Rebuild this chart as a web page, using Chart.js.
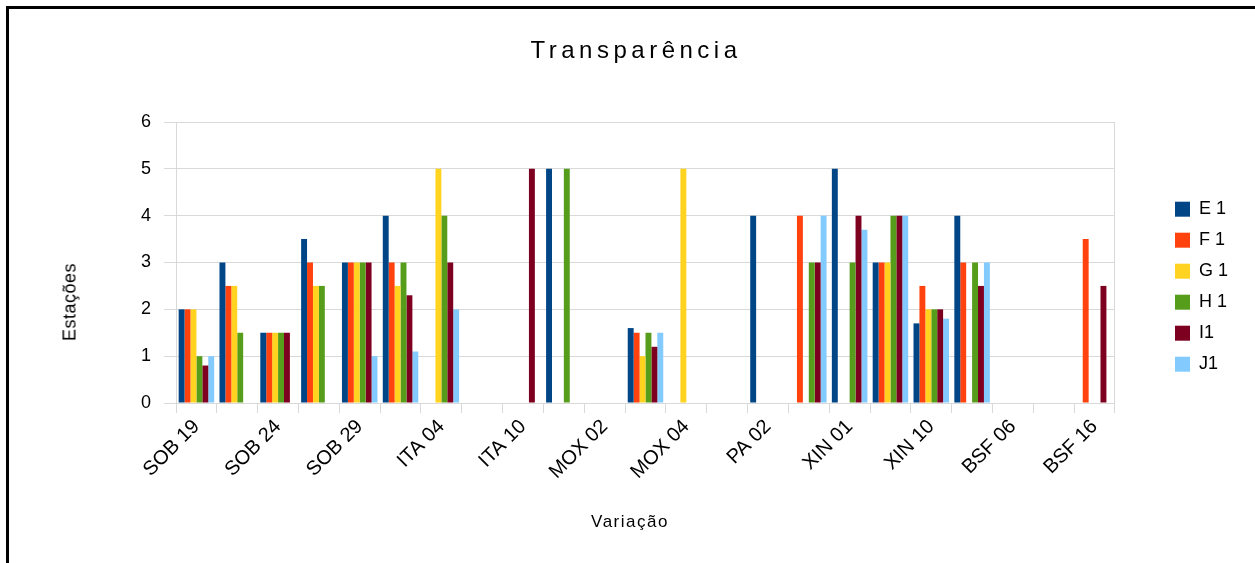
<!DOCTYPE html>
<html>
<head>
<meta charset="utf-8">
<script src="https://cdn.jsdelivr.net/npm/chart.js@4.4.0/dist/chart.umd.min.js"></script>
<style>
  html, body { margin: 0; padding: 0; background: #fff; overflow: hidden; }
  #wrap { position: relative; width: 1255px; height: 563px; }
  #frame { position: absolute; left: 6px; top: 6px; width: 1400px; height: 700px;
           border-top: 3px solid #000; border-left: 3px solid #000; }
  canvas { position: absolute; left: 0; top: 0; }
  .txt { position: absolute; font-family: 'Liberation Sans', Arial, sans-serif; color: #000; white-space: nowrap; }
  #titulo { left: 0; width: 1272px; top: 36px; text-align: center; font-size: 24px; letter-spacing: 4.5px; }
  #xtit { left: 0; width: 1260px; top: 512px; text-align: center; font-size: 17px; letter-spacing: 1.5px; }
  #ytit { left: 70px; top: 302px; font-size: 18px; letter-spacing: 0.5px;
          transform: translate(-50%, -50%) rotate(-90deg); }
</style>
</head>
<body>
<div id="wrap">
  <div id="frame"></div>
  <canvas id="grafico" width="1255" height="563"></canvas>
  <div class="txt" id="titulo">Transparência</div>
  <div class="txt" id="xtit">Variação</div>
  <div class="txt" id="ytit">Estações</div>
</div>
<script>
// estações (só os rótulos pares aparecem no eixo)
const estacoes = ['SOB 19', '', 'SOB 24', '', 'SOB 29', '', 'ITA 04', '', 'ITA 10', '', 'MOX 02', '',
  'MOX 04', '', 'PA 02', '', 'XIN 01', '', 'XIN 10', '', 'BSF 06', '', 'BSF 16'];

const e1 = [2, 3, 1.5, 3.5, 3, 4, null, null, null, 5, null, 1.6, null, null, 4, null, 5, 3, 1.7, 4, null, null, null];
const f1 = [2, 2.5, 1.5, 3, 3, 3, null, null, null, null, null, 1.5, null, null, null, 4, null, 3, 2.5, 3, null, null, 3.5];
const g1 = [2, 2.5, 1.5, 2.5, 3, 2.5, 5, null, null, null, null, 1, 5, null, null, null, null, 3, 2, null, null, null, null];
const h1 = [1, 1.5, 1.5, 2.5, 3, 3, 4, null, null, 5, null, 1.5, null, null, null, 3, 3, 4, 2, 3, null, null, null];
const i1 = [0.8, null, 1.5, null, 3, 2.3, 3, null, 5, null, null, 1.2, null, null, null, 3, 4, 4, 2, 2.5, null, null, 2.5];
const j1 = [1, null, null, null, 1, 1.1, 2, null, null, null, null, 1.5, null, null, null, 4, 3.7, 4, 1.8, 3, null, null, null];

const yTicks = [0, 1, 2, 3, 4, 5, 6];

const fonte = 'Liberation Sans, Arial, sans-serif';
const cinza = '#d9d9d9';

window.onload = function () {
  const ctx = document.getElementById('grafico').getContext('2d');
  new Chart(ctx, {
    type: 'bar',
    data: {
      labels: estacoes,
      datasets: [
        { label: 'E 1', data: e1, backgroundColor: '#004586' },
        { label: 'F 1', data: f1, backgroundColor: '#ff420e' },
        { label: 'G 1', data: g1, backgroundColor: '#ffd320' },
        { label: 'H 1', data: h1, backgroundColor: '#579d1c' },
        { label: 'I1', data: i1, backgroundColor: '#7e0021' },
        { label: 'J1', data: j1, backgroundColor: '#83caff' }
      ]
    },
    options: {
      responsive: false,
      animation: false,
      datasets: { bar: { categoryPercentage: 0.87, barPercentage: 1.0, borderWidth: 0 } },
      layout: { padding: { top: 122, right: 17, bottom: 0, left: 0 } },
      plugins: {
        tooltip: { enabled: false },
        legend: {
          position: 'right',
          fullSize: false,
          title: { display: true, text: '', padding: { top: 34, bottom: 0 } },
          labels: {
            boxWidth: 15, boxHeight: 15, padding: 13, color: '#000',
            font: { family: fonte, size: 18 }
          }
        }
      },
      scales: {
        x: {
          grid: { drawOnChartArea: false, tickLength: 10, color: cinza },
          border: { color: cinza },
          ticks: {
            autoSkip: false, minRotation: 45, maxRotation: 45, padding: 2,
            color: '#000', font: { family: fonte, size: 20 }
          },
          afterFit: s => { s.height = 160; }
        },
        y: {
          min: 0, max: 6,
          grid: { color: cinza, tickLength: 12 },
          border: { color: cinza },
          ticks: {
            stepSize: 1, padding: 13, color: '#000', font: { family: fonte, size: 18 },
            callback: v => yTicks.includes(v) ? v : ''
          },
          afterFit: s => { s.width = 176; }
        },
        y2: {
          position: 'right',
          grid: { display: false },
          border: { display: true, color: cinza },
          ticks: { display: false },
          afterFit: s => { s.width = 47; }
        }
      }
    }
  });
};
</script>
</body>
</html>
